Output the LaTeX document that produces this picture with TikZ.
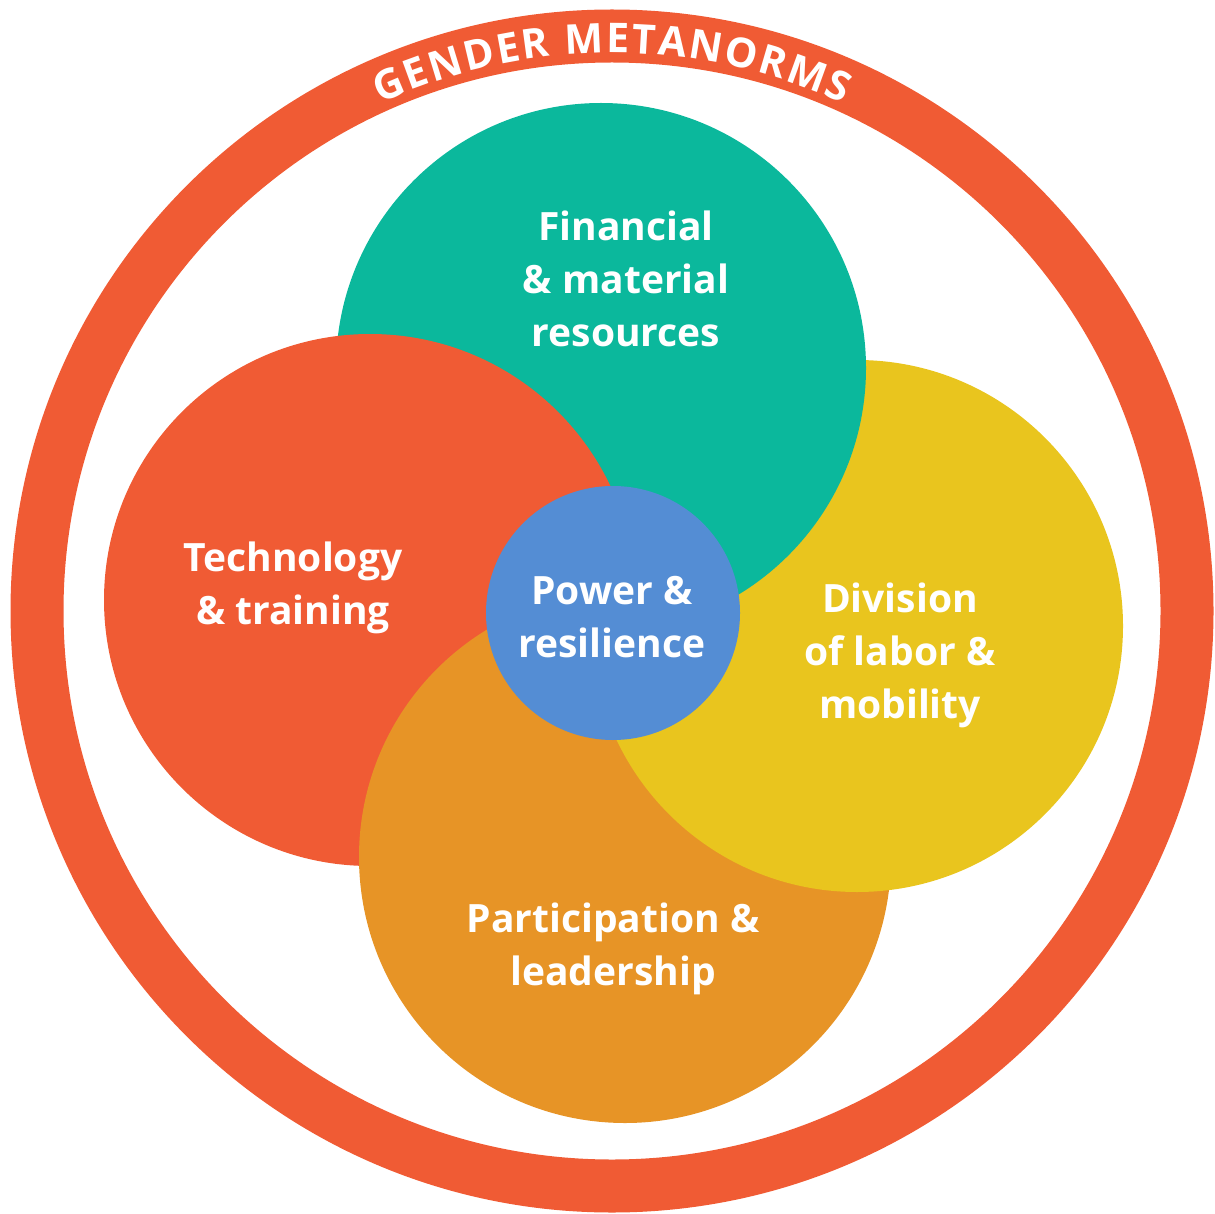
\documentclass[tikz,border=0pt]{standalone}
\usepackage{fontspec}
\setmainfont{Open Sans}
\usepackage{tikz}
\usetikzlibrary{decorations.text}
\usetikzlibrary{positioning}
\definecolor{metared}{RGB}{240,91,52}
\definecolor{fingreen}{RGB}{11,184,156}
\definecolor{divyellow}{RGB}{233,197,30}
\definecolor{partorange}{RGB}{231,148,38}
\definecolor{powerblue}{RGB}{84,141,212}
\newcommand{\ringfont}{\bfseries\fontsize{41}{41}\selectfont}
\tikzstyle{areatext} = [text=white, font=\bfseries\fontsize{39}{53}\selectfont, align=center]
\tikzstyle{petal} = [radius=266pt]

\begin{document}
\begin{tikzpicture}[x=1pt, y=-1pt]
  \useasboundingbox (0,0) rectangle (1215,1214);
  \coordinate (centre) at (612,611);
  % outer ring
  \draw[metared, line width=53pt] (centre) circle[radius=575pt];
  \path[decorate, decoration={text along path, text={|\ringfont|GENDER METANORMS},
      text color=white, text align=fit to path}]
    ([shift={(centre)}]114.5:558pt) arc[start angle=114.5, end angle=65.5, radius=558pt];

  % four overlapping circles
  \fill[partorange] (625,857) circle[petal];
  \fill[divyellow] (857,626) circle[petal];
  \fill[fingreen] (601,368) circle[radius=265pt];
  \fill[metared] (370,600) circle[petal];
  \begin{scope}
    \clip (370,600) circle[radius=269pt];
    \fill[partorange] (625,857) circle[petal];
  \end{scope}
  \fill[powerblue] (613,613) circle[radius=127pt];

  \node (fin) [areatext] at (626,279) {Financial\\\& material\\resources};
  \node (tech) [areatext] at (293,588) {Technology\\\& training};
  \node (power) [areatext] at (612,617) {Power \&\\resilience};
  \node (div) [areatext] at (900,655) {Division\\of labor \&\\mobility};
  \node (part) [areatext] at (613,949) {Participation \&\\leadership};
\end{tikzpicture}
\end{document}
